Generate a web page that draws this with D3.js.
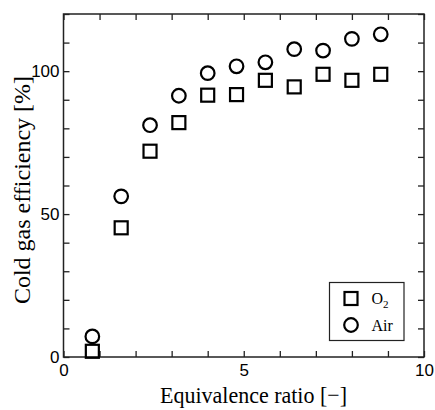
<!DOCTYPE html>
<html>
<head>
<meta charset="utf-8">
<script src="https://cdn.jsdelivr.net/npm/d3@7"></script>
<style>
  body { margin: 0; background: #fff; }
  .tick text { font-family: "Liberation Sans", Arial, sans-serif; font-size: 17px; fill: #000; }
  .titulo { font-family: "Liberation Serif", "Times New Roman", serif; font-size: 24px; fill: #000; }
</style>
</head>
<body>
<div id="graf"></div>
<script>
// datos
const ratio = [0.8, 1.6, 2.4, 3.2, 4.0, 4.8, 5.6, 6.4, 7.2, 8.0, 8.8]
const efO2 = [2.0, 45.2, 72.0, 82.0, 91.6, 91.8, 96.8, 94.5, 98.9, 96.8, 98.9]
const efAir = [7.2, 56.2, 81.1, 91.4, 99.3, 101.7, 103.1, 107.7, 107.2, 111.3, 112.9]
const xTicks = [0, 5, 10]
const yTicks = [0, 50, 100]

const anchoTotal = 435
const altoTotal = 410

const margin = { top: 14, bottom: 53, left: 63.5, right: 11 }
const ancho = anchoTotal - margin.left - margin.right
const alto = altoTotal - margin.top - margin.bottom

const svg = d3.select('#graf')
  .append('svg')
  .attr('width', anchoTotal)
  .attr('height', altoTotal)

const g = svg.append('g')
  .attr('transform', `translate(${margin.left}, ${margin.top})`)

const x = d3.scaleLinear().domain([0, 10]).range([0, ancho])
const y = d3.scaleLinear().domain([0, 120]).range([alto, 0])

// ticks menores hacia adentro en los cuatro lados
const tk = 6
const ejeStyle = sel => {
  sel.select('.domain').remove()
  sel.selectAll('line').attr('stroke', '#222').attr('stroke-width', 1.3)
}

g.append('g')
  .attr('transform', `translate(0, ${alto})`)
  .call(d3.axisBottom(x).tickValues(d3.range(0, 11, 1)).tickSize(-tk).tickFormat(''))
  .call(ejeStyle)
g.append('g')
  .call(d3.axisTop(x).tickValues(d3.range(0, 11, 1)).tickSize(-tk).tickFormat(''))
  .call(ejeStyle)
g.append('g')
  .call(d3.axisLeft(y).tickValues(d3.range(0, 121, 10)).tickSize(-tk).tickFormat(''))
  .call(ejeStyle)
g.append('g')
  .attr('transform', `translate(${ancho}, 0)`)
  .call(d3.axisRight(y).tickValues(d3.range(0, 121, 10)).tickSize(-tk).tickFormat(''))
  .call(ejeStyle)

// etiquetas
g.append('g')
  .attr('transform', `translate(0, ${alto})`)
  .call(d3.axisBottom(x).tickValues(xTicks).tickSize(0).tickPadding(7))
  .call(s => s.select('.domain').remove())
g.append('g')
  .call(d3.axisLeft(y).tickValues(yTicks).tickSize(0).tickPadding(4))
  .call(s => s.select('.domain').remove())

// marco
g.append('rect')
  .attr('width', ancho)
  .attr('height', alto)
  .attr('fill', 'none')
  .attr('stroke', '#222')
  .attr('stroke-width', 1.5)

const lado = 13
const radio = 6.8

const puntos = ratio.map((r, i) => ({ r: r, o2: efO2[i], air: efAir[i] }))

g.selectAll('.air')
  .data(puntos)
  .enter()
  .append('circle')
  .attr('class', 'air')
  .attr('cx', d => x(d.r))
  .attr('cy', d => y(d.air))
  .attr('r', radio)
  .attr('fill', 'none')
  .attr('stroke', '#000')
  .attr('stroke-width', 2.2)

g.selectAll('.o2')
  .data(puntos)
  .enter()
  .append('rect')
  .attr('class', 'o2')
  .attr('x', d => x(d.r) - lado / 2)
  .attr('y', d => y(d.o2) - lado / 2)
  .attr('width', lado)
  .attr('height', lado)
  .attr('fill', 'none')
  .attr('stroke', '#000')
  .attr('stroke-width', 2.2)

// leyenda
const ley = svg.append('g').attr('transform', 'translate(329.5, 282.5)')
ley.append('rect')
  .attr('width', 74.5)
  .attr('height', 58)
  .attr('fill', '#fff')
  .attr('stroke', '#222')
  .attr('stroke-width', 1.2)
ley.append('rect')
  .attr('x', 21.5 - lado / 2)
  .attr('y', 16 - lado / 2)
  .attr('width', lado)
  .attr('height', lado)
  .attr('fill', 'none')
  .attr('stroke', '#000')
  .attr('stroke-width', 2.2)
ley.append('circle')
  .attr('cx', 21.5)
  .attr('cy', 42.5)
  .attr('r', radio)
  .attr('fill', 'none')
  .attr('stroke', '#000')
  .attr('stroke-width', 2.2)
const tO2 = ley.append('text')
  .attr('class', 'titulo')
  .attr('x', 42)
  .attr('y', 21)
  .style('font-size', '16px')
tO2.append('tspan').text('O')
tO2.append('tspan').text('2').attr('dy', 4).style('font-size', '11px')
ley.append('text')
  .attr('class', 'titulo')
  .attr('x', 42)
  .attr('y', 48)
  .style('font-size', '16px')
  .text('Air')

// titulos
svg.append('text')
  .attr('class', 'titulo')
  .attr('x', 253.5)
  .attr('y', 403)
  .attr('text-anchor', 'middle')
  .attr('textLength', 187)
  .attr('lengthAdjust', 'spacingAndGlyphs')
  .text('Equivalence ratio [\u2212]')

svg.append('text')
  .attr('class', 'titulo')
  .attr('transform', 'translate(29.5, 190) rotate(-90)')
  .attr('text-anchor', 'middle')
  .text('Cold gas efficiency [%]')
</script>
</body>
</html>
